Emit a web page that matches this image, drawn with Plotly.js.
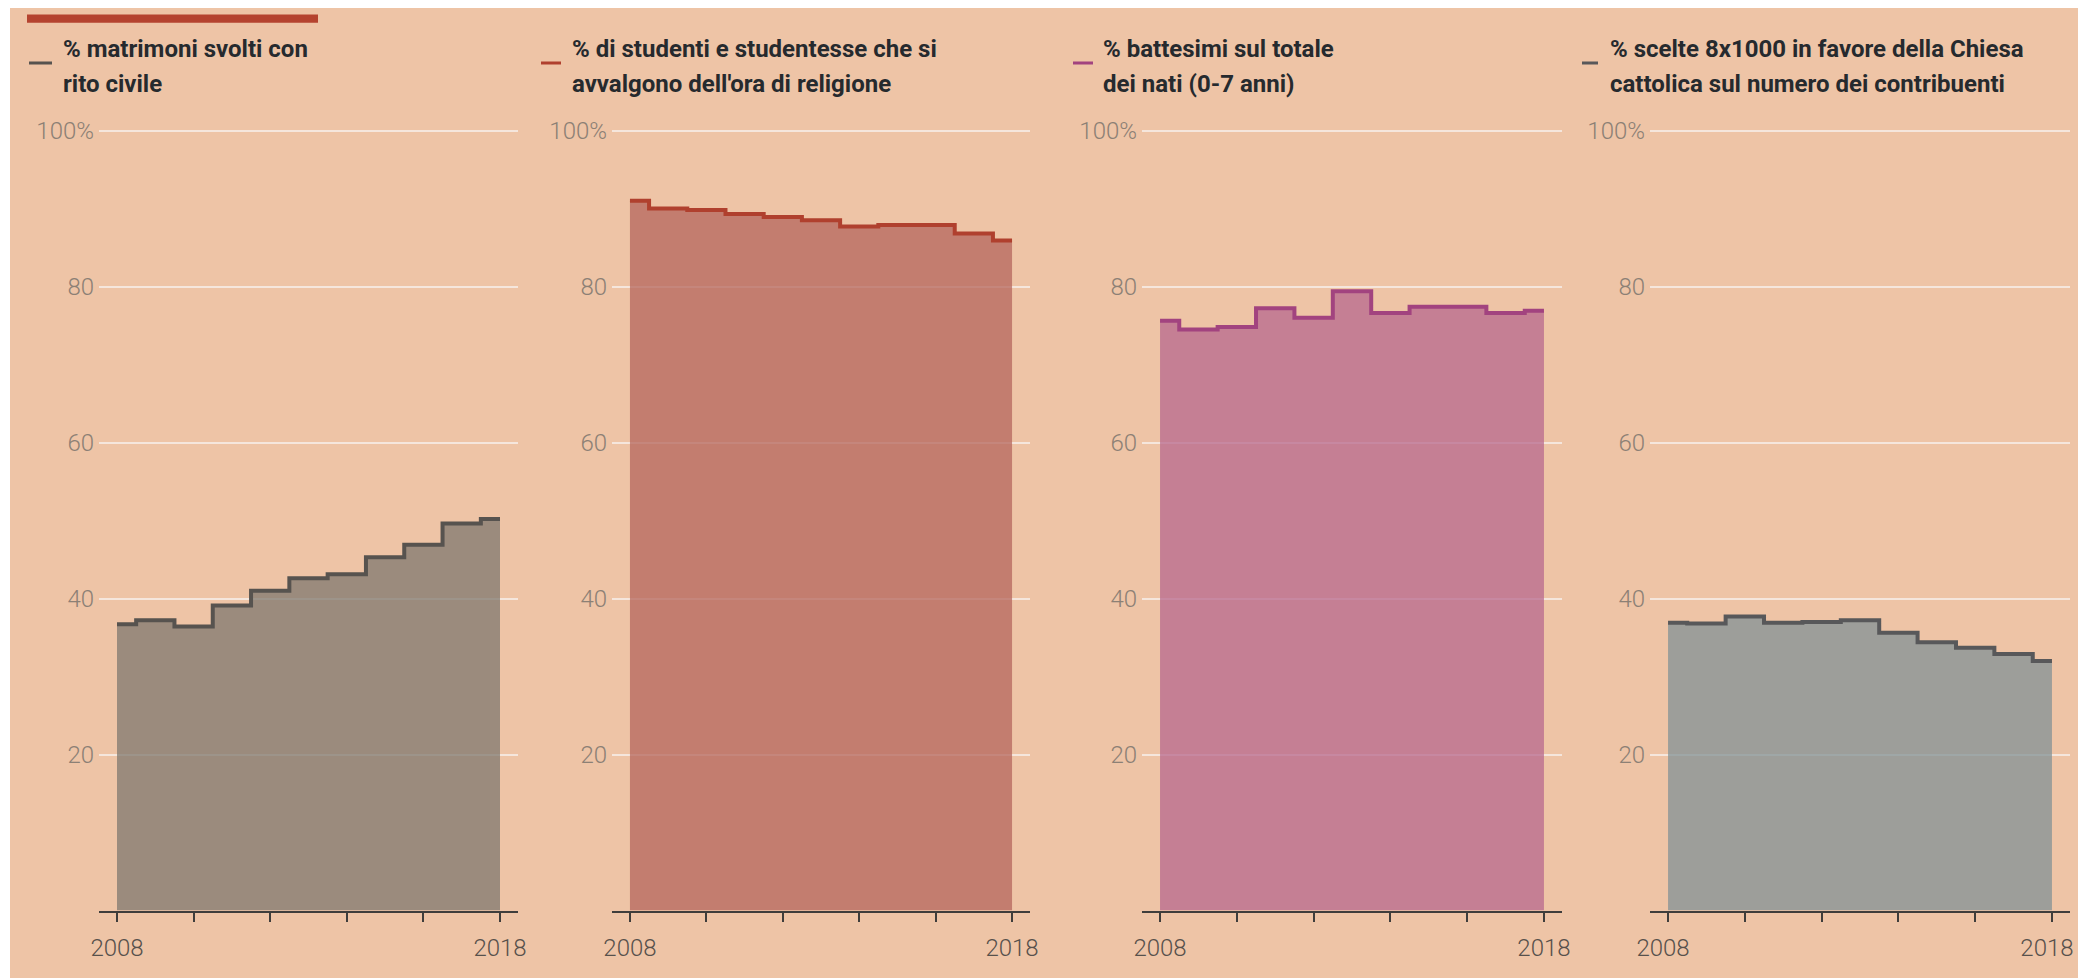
<!DOCTYPE html>
<html>
<head>
<meta charset="utf-8">
<script src="https://cdn.plot.ly/plotly-3.0.1.min.js"></script>
<style>
  html, body { margin: 0; padding: 0; background: #ffffff; }
  #chart { width: 2078px; height: 980px; }
</style>
</head>
<body>
<div id="chart"></div>
<script>
// ---- data ----
const years = [2008, 2009, 2010, 2011, 2012, 2013, 2014, 2015, 2016, 2017, 2018];
const matrimoniCivili = [36.7, 37.2, 36.4, 39.1, 41.0, 42.6, 43.1, 45.3, 46.9, 49.6, 50.2];
const oraReligione = [91.0, 90.0, 89.8, 89.3, 88.9, 88.5, 87.7, 87.9, 87.9, 86.8, 85.9];
const battesimi = [75.6, 74.5, 74.8, 77.2, 76.0, 79.4, 76.6, 77.4, 77.4, 76.6, 76.9];
const ottoPerMille = [36.9, 36.8, 37.7, 36.9, 37.0, 37.2, 35.6, 34.4, 33.7, 32.9, 32.0];

const titles = [
  ["% matrimoni svolti con", "rito civile"],
  ["% di studenti e studentesse che si", "avvalgono dell'ora di religione"],
  ["% battesimi sul totale", "dei nati (0-7 anni)"],
  ["% scelte 8x1000 in favore della Chiesa", "cattolica sul numero dei contribuenti"]
];
const xTickVals = [2008, 2010, 2012, 2014, 2016, 2018];
const xTickText = ["2008", "", "", "", "", "2018"];
const yTickVals = [20, 40, 60, 80, 100];
const yTickText = ["20", "40", "60", "80", "100%"];

// ---- styling ----
const W = 2078, H = 980;
const series = [matrimoniCivili, oraReligione, battesimi, ottoPerMille];
const lineColors = ["#57534f", "#b0402e", "#a2437f", "#58585a"];
const fillColors = ["rgba(127,120,111,0.75)", "rgba(180,102,92,0.75)", "rgba(183,104,141,0.75)", "rgba(130,145,149,0.75)"];
const panelPx = [[99, 518], [612, 1030], [1142, 1562], [1650, 2070]];
const dashPx = [[29, 52], [541, 561], [1073, 1093], [1582, 1598]];
const textPx = [61, 570, 1101, 1608];
const labelShift = [0, 0, 0, -5];
const yBottomPx = 910.5, pxPerUnit = 7.8, yMax = 104;
const yDomain = [(H - yBottomPx) / H, (H - (yBottomPx - yMax * pxPerUnit)) / H];

const numFont = { family: "Roboto, 'DejaVu Sans Condensed', sans-serif", size: 24, weight: 300 };

const data = [];
const layout = {
  width: W, height: H,
  margin: { l: 0, r: 0, t: 0, b: 0 },
  paper_bgcolor: "#ffffff",
  plot_bgcolor: "rgba(0,0,0,0)",
  showlegend: false,
  shapes: [
    { type: "rect", xref: "paper", yref: "paper", x0: 10 / W, x1: 1, y0: 1 - 978 / H, y1: 1 - 8 / H,
      fillcolor: "#eec4a6", line: { width: 0 }, layer: "below" },
    { type: "rect", xref: "paper", yref: "paper", x0: 27 / W, x1: 318 / W, y0: 1 - 22.7 / H, y1: 1 - 14.5 / H,
      fillcolor: "#b5432f", line: { width: 0 }, layer: "above" }
  ],
  annotations: []
};

for (let i = 0; i < 4; i++) {
  const n = i === 0 ? "" : String(i + 1);
  data.push({
    type: "scatter", mode: "lines",
    x: years, y: series[i],
    xaxis: "x" + n, yaxis: "y" + n,
    line: { shape: "hvh", color: lineColors[i], width: 4 },
    fill: "tozeroy", fillcolor: fillColors[i],
    hoverinfo: "x+y"
  });
  layout["xaxis" + n] = {
    domain: [panelPx[i][0] / W, panelPx[i][1] / W],
    anchor: "y" + n,
    range: [2007.53, 2018.47],
    tickvals: xTickVals, ticktext: xTickText,
    ticks: "outside", ticklen: 9, tickwidth: 2, tickcolor: "#3f3d3b",
    showline: true, linecolor: "#3f3d3b", linewidth: 2,
    showgrid: false, zeroline: false,
    ticklabelstandoff: 6,
    ticklabelshift: labelShift[i],
    ticklabeloverflow: "allow",
    tickfont: Object.assign({}, numFont, { color: "#57514c" }),
    fixedrange: true
  };
  layout["yaxis" + n] = {
    domain: yDomain,
    anchor: "x" + n,
    range: [0, yMax],
    tickvals: yTickVals, ticktext: yTickText,
    showgrid: true, gridcolor: "rgba(246,234,228,0.88)", gridwidth: 2,
    zeroline: false, showline: false, ticks: "",
    ticklabelstandoff: 4,
    tickfont: Object.assign({}, numFont, { color: "#8c8075" }),
    fixedrange: true
  };
  layout.shapes.push({
    type: "line", xref: "paper", yref: "paper",
    x0: dashPx[i][0] / W, x1: dashPx[i][1] / W, y0: 1 - 63 / H, y1: 1 - 63 / H,
    line: { color: lineColors[i], width: 3 }
  });
  [49, 84].forEach((ypx, k) => {
    layout.annotations.push({
      xref: "paper", yref: "paper", x: textPx[i] / W, y: 1 - ypx / H,
      xanchor: "left", yanchor: "middle", showarrow: false,
      text: titles[i][k],
      font: { family: "Roboto, 'Open Sans', sans-serif", size: 24, weight: 700, color: "#262a2e" }
    });
  });
}

Plotly.newPlot("chart", data, layout, { displayModeBar: false, staticPlot: true });
</script>
</body>
</html>
